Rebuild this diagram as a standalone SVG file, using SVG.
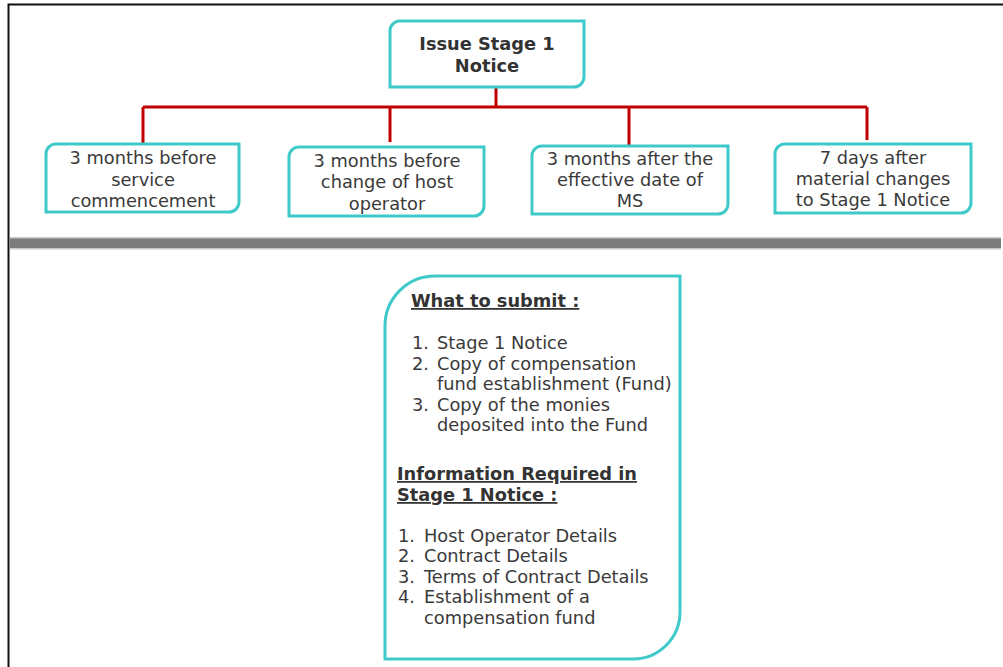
<svg xmlns="http://www.w3.org/2000/svg" width="1003" height="667" viewBox="0 0 1003 667">
<style>
.box{fill:#fff;stroke:#3fc9c9;stroke-width:3}
.t{font-family:"DejaVu Sans",Verdana,sans-serif;font-size:17.8px;fill:#3a3a3a}
.c{text-anchor:middle}
.b{font-weight:bold;fill:#333}
.u{text-decoration:underline}
.conn{fill:none;stroke:#c00000;stroke-width:3}
</style>
<rect width="1003" height="667" fill="#fff"/>
<g id="frame">
<path d="M8.5,667 V4.5 H1003" fill="none" stroke="#111" stroke-width="2"/>
<rect x="10" y="238" width="991" height="10" fill="#7c7c7c"/>
<rect x="10" y="237" width="991" height="1.5" fill="#c8c8c8"/>
<rect x="10" y="248" width="991" height="1.5" fill="#c8c8c8"/>
</g>
<g id="connectors">
<path class="conn" d="M496,87 V107"/>
<path class="conn" d="M143,107 H867"/>
<path class="conn" d="M143,107 V144"/>
<path class="conn" d="M390,107 V142"/>
<path class="conn" d="M629,107 V145"/>
<path class="conn" d="M867,107 V140"/>
</g>
<g id="issue">
<path class="box" d="M400,21 H584 V77 A10,10 0 0 1 574,87 H390 V31 A10,10 0 0 1 400,21 Z"/>
<text class="t b c" x="487" y="50">Issue Stage 1</text>
<text class="t b c" x="487" y="72">Notice</text>
</g>
<g id="n1">
<path class="box" d="M56,144 H239 V202 A10,10 0 0 1 229,212 H46 V154 A10,10 0 0 1 56,144 Z"/>
<text class="t c" x="143" y="164">3 months before</text>
<text class="t c" x="143" y="186">service</text>
<text class="t c" x="143" y="207">commencement</text>
</g>
<g id="n2">
<path class="box" d="M299,147 H484 V206 A10,10 0 0 1 474,216 H289 V157 A10,10 0 0 1 299,147 Z"/>
<text class="t c" x="387" y="167">3 months before</text>
<text class="t c" x="387" y="188">change of host</text>
<text class="t c" x="387" y="210">operator</text>
</g>
<g id="n3">
<path class="box" d="M542,146 H728 V204 A10,10 0 0 1 718,214 H532 V156 A10,10 0 0 1 542,146 Z"/>
<text class="t c" x="630" y="165">3 months after the</text>
<text class="t c" x="630" y="186">effective date of</text>
<text class="t c" x="630" y="207">MS</text>
</g>
<g id="n4">
<path class="box" d="M785,144 H971 V203 A10,10 0 0 1 961,213 H775 V154 A10,10 0 0 1 785,144 Z"/>
<text class="t c" x="873" y="164">7 days after</text>
<text class="t c" x="873" y="185">material changes</text>
<text class="t c" x="873" y="206">to Stage 1 Notice</text>
</g>
<g id="details">
<path class="box" d="M435,276 H680 V612 A47,47 0 0 1 633,659 H385 V326 A50,50 0 0 1 435,276 Z"/>
<text class="t b u" x="411" y="307">What to submit :</text>
<text class="t" x="412" y="349">1.</text><text class="t" x="437" y="349">Stage 1 Notice</text>
<text class="t" x="412" y="370">2.</text><text class="t" x="437" y="370">Copy of compensation</text>
<text class="t" x="437" y="390">fund establishment (Fund)</text>
<text class="t" x="412" y="411">3.</text><text class="t" x="437" y="411">Copy of the monies</text>
<text class="t" x="437" y="431">deposited into the Fund</text>
<text class="t b u" x="397" y="480">Information Required in</text>
<text class="t b u" x="397" y="501">Stage 1 Notice :</text>
<text class="t" x="398" y="542">1.</text><text class="t" x="424" y="542">Host Operator Details</text>
<text class="t" x="398" y="562">2.</text><text class="t" x="424" y="562">Contract Details</text>
<text class="t" x="398" y="583">3.</text><text class="t" x="424" y="583">Terms of Contract Details</text>
<text class="t" x="398" y="603">4.</text><text class="t" x="424" y="603">Establishment of a</text>
<text class="t" x="424" y="624">compensation fund</text>
</g>
</svg>
